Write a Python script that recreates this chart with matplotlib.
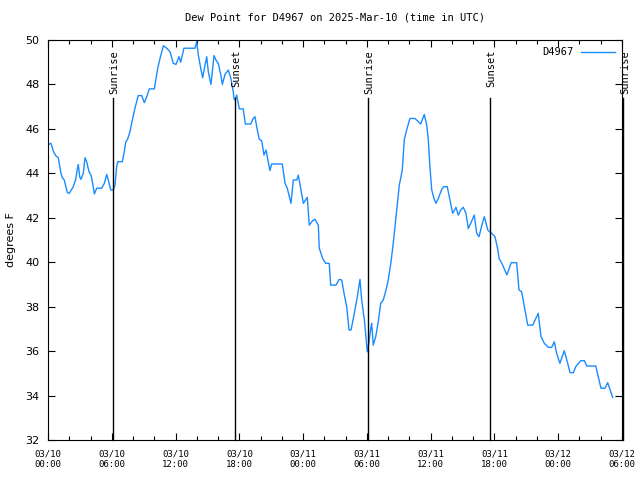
import matplotlib
matplotlib.use("Agg")
import matplotlib.pyplot as plt
import numpy as np

# hours since 2025-03-10 00:00 UTC
hours = [0.03, 0.28, 0.50, 0.72, 0.97, 1.19, 1.35, 1.53, 1.82, 2.00, 2.38, 2.61, 2.76, 2.85,
         2.98, 3.10, 3.32, 3.48, 3.64, 3.86, 4.05, 4.20, 4.36, 4.58, 5.05, 5.30, 5.52, 5.67,
         5.90, 6.14, 6.30, 6.46, 6.56, 6.99, 7.15, 7.31, 7.50, 7.71, 7.87, 8.18, 8.49, 8.81,
         9.06, 9.29, 9.53, 10.00, 10.32, 10.54, 10.85, 11.17, 11.48, 11.79, 12.04, 12.32, 12.48,
         12.79, 13.83, 13.99, 14.14, 14.37, 14.55, 14.77, 14.93, 15.08, 15.33, 15.49, 15.62,
         15.80, 16.02, 16.27, 16.40, 16.65, 16.96, 17.19, 17.43, 17.50, 17.59, 17.75, 18.00,
         18.37, 18.56, 19.07, 19.31, 19.47, 19.69, 19.88, 20.10, 20.32, 20.51, 20.72, 20.88,
         21.04, 22.04, 22.30, 22.51, 22.86, 23.08, 23.40, 23.55, 23.77, 24.02, 24.27, 24.39,
         24.58, 24.90, 25.12, 25.43, 25.52, 25.84, 26.12, 26.46, 26.59, 27.09, 27.40, 27.63,
         27.85, 28.10, 28.32, 28.51, 28.79, 29.10, 29.35, 29.51, 29.76, 29.92, 30.04, 30.20,
         30.36, 30.45, 30.60, 30.83, 31.07, 31.30, 31.54, 31.80, 32.01, 32.27, 32.48, 32.74,
         32.90, 33.05, 33.33, 33.52, 33.74, 34.05, 34.52, 34.84, 35.06, 35.40, 35.63, 35.78,
         35.94, 36.10, 36.31, 36.50, 36.72, 37.04, 37.25, 37.56, 37.82, 38.07, 38.38, 38.60,
         38.82, 39.07, 39.32, 39.54, 39.77, 40.10, 40.33, 40.55, 40.86, 41.05, 41.37, 41.74,
         42.05, 42.28, 42.45, 42.70, 43.17, 43.58, 44.09, 44.31, 44.56, 44.81, 45.13, 45.60,
         46.12, 46.38, 46.69, 47.07, 47.39, 47.63, 47.85, 48.16, 48.57, 48.89, 49.11, 49.42,
         49.65, 50.12, 50.46, 50.68, 51.53, 51.77, 52.02, 52.40, 52.65, 52.87, 53.12]

dewpoint = [45.30, 45.35, 45.00, 44.80, 44.70, 44.07, 43.80, 43.70, 43.13, 43.10, 43.40, 43.73,
            44.20, 44.40, 43.85, 43.73, 44.00, 44.70, 44.52, 44.07, 43.92, 43.55, 43.07, 43.33,
            43.33, 43.55, 43.95, 43.70, 43.25, 43.25, 43.47, 44.30, 44.52, 44.52, 44.90, 45.40,
            45.55, 45.87, 46.25, 46.93, 47.50, 47.50, 47.18, 47.45, 47.80, 47.80, 48.72, 49.17,
            49.74, 49.63, 49.47, 48.95, 48.90, 49.25, 49.00, 49.63, 49.63, 49.93, 49.33, 48.72,
            48.30, 48.87, 49.25, 48.57, 48.00, 48.72, 49.30, 49.10, 48.95, 48.40, 48.00, 48.45,
            48.65, 48.30, 47.67, 47.37, 47.30, 47.52, 46.90, 46.90, 46.22, 46.22, 46.47, 46.55,
            45.95, 45.53, 45.47, 44.82, 45.05, 44.52, 44.12, 44.42, 44.42, 43.55, 43.33, 42.65,
            43.70, 43.70, 43.92, 43.33, 42.65, 42.83, 42.92, 41.67, 41.87, 41.93, 41.67, 40.63,
            40.17, 39.95, 39.95, 38.97, 38.97, 39.23, 39.20, 38.60, 38.00, 36.95, 36.95, 37.63,
            38.45, 39.23, 38.30, 37.40, 36.57, 35.97, 36.42, 37.02, 37.25, 36.27, 36.65, 37.32,
            38.15, 38.30, 38.75, 39.20, 40.02, 40.85, 42.05, 42.80, 43.47, 44.15, 45.53, 45.95,
            46.47, 46.47, 46.32, 46.22, 46.65, 46.17, 45.50, 44.22, 43.25, 42.87, 42.65, 42.87,
            43.28, 43.40, 43.40, 42.80, 42.20, 42.47, 42.12, 42.35, 42.47, 42.20, 41.52, 41.75,
            42.12, 41.30, 41.15, 41.75, 42.05, 41.45, 41.30, 41.15, 40.65, 40.15, 39.95, 39.43,
            39.98, 39.98, 38.75, 38.67, 38.00, 37.17, 37.17, 37.70, 36.65, 36.35, 36.17, 36.17,
            36.42, 35.90, 35.45, 36.02, 35.45, 35.03, 35.03, 35.30, 35.57, 35.57, 35.33, 35.33,
            34.85, 34.33, 34.33, 34.58, 34.27, 33.92]

sun_hours = [6.11, 17.59, 30.10, 41.58, 54.13]
sun_labels = ["Sunrise", "Sunset", "Sunrise", "Sunset", "Sunrise"]

tick_hours = [0, 6, 12, 18, 24, 30, 36, 42, 48, 54]
tick_labels = ["03/10\n00:00", "03/10\n06:00", "03/10\n12:00", "03/10\n18:00",
               "03/11\n00:00", "03/11\n06:00", "03/11\n12:00", "03/11\n18:00",
               "03/12\n00:00", "03/12\n06:00"]

mono = "DejaVu Sans Mono"

fig = plt.figure(figsize=(6.4, 4.8), dpi=100)
ax = fig.add_axes([48 / 640, 40 / 480, 574 / 640, 400 / 480])

ax.plot(hours, dewpoint, color="#1a8cff", lw=1, label="D4967")

for h, lab in zip(sun_hours, sun_labels):
    ax.axvline(h, ymin=0, ymax=0.855, color="black", lw=1, clip_on=False)
    ax.text(h + 0.15, 0.975, lab, transform=ax.get_xaxis_transform(), rotation=90,
            ha="center", va="top", fontsize=7.5, family=mono, clip_on=False)

ax.set_xlim(0, 54)
ax.set_ylim(32, 50)
ax.set_xticks(tick_hours)
ax.set_xticklabels(tick_labels, family=mono, fontsize=6.5)
ax.set_xticks(np.arange(0, 55, 2), minor=True)
ax.set_yticks(np.arange(32, 51, 2))
ax.tick_params(axis="both", which="both", direction="in", top=True, right=True)
ax.tick_params(axis="both", which="major", length=5, width=0.8)
ax.tick_params(axis="x", which="minor", length=3, width=0.8)
ax.tick_params(axis="y", labelsize=8, pad=6)
ax.tick_params(axis="x", pad=7)

ax.set_ylabel("degrees F", fontsize=8, labelpad=7)
ax.set_title("Dew Point for D4967 on 2025-Mar-10 (time in UTC)", family=mono,
             fontsize=7.5, pad=14)

ax.legend(loc="upper right", frameon=False, markerfirst=False, handlelength=3.2,
          prop={"family": mono, "size": 7.5}, borderaxespad=0.3)

fig.savefig("out.png", dpi=100)
